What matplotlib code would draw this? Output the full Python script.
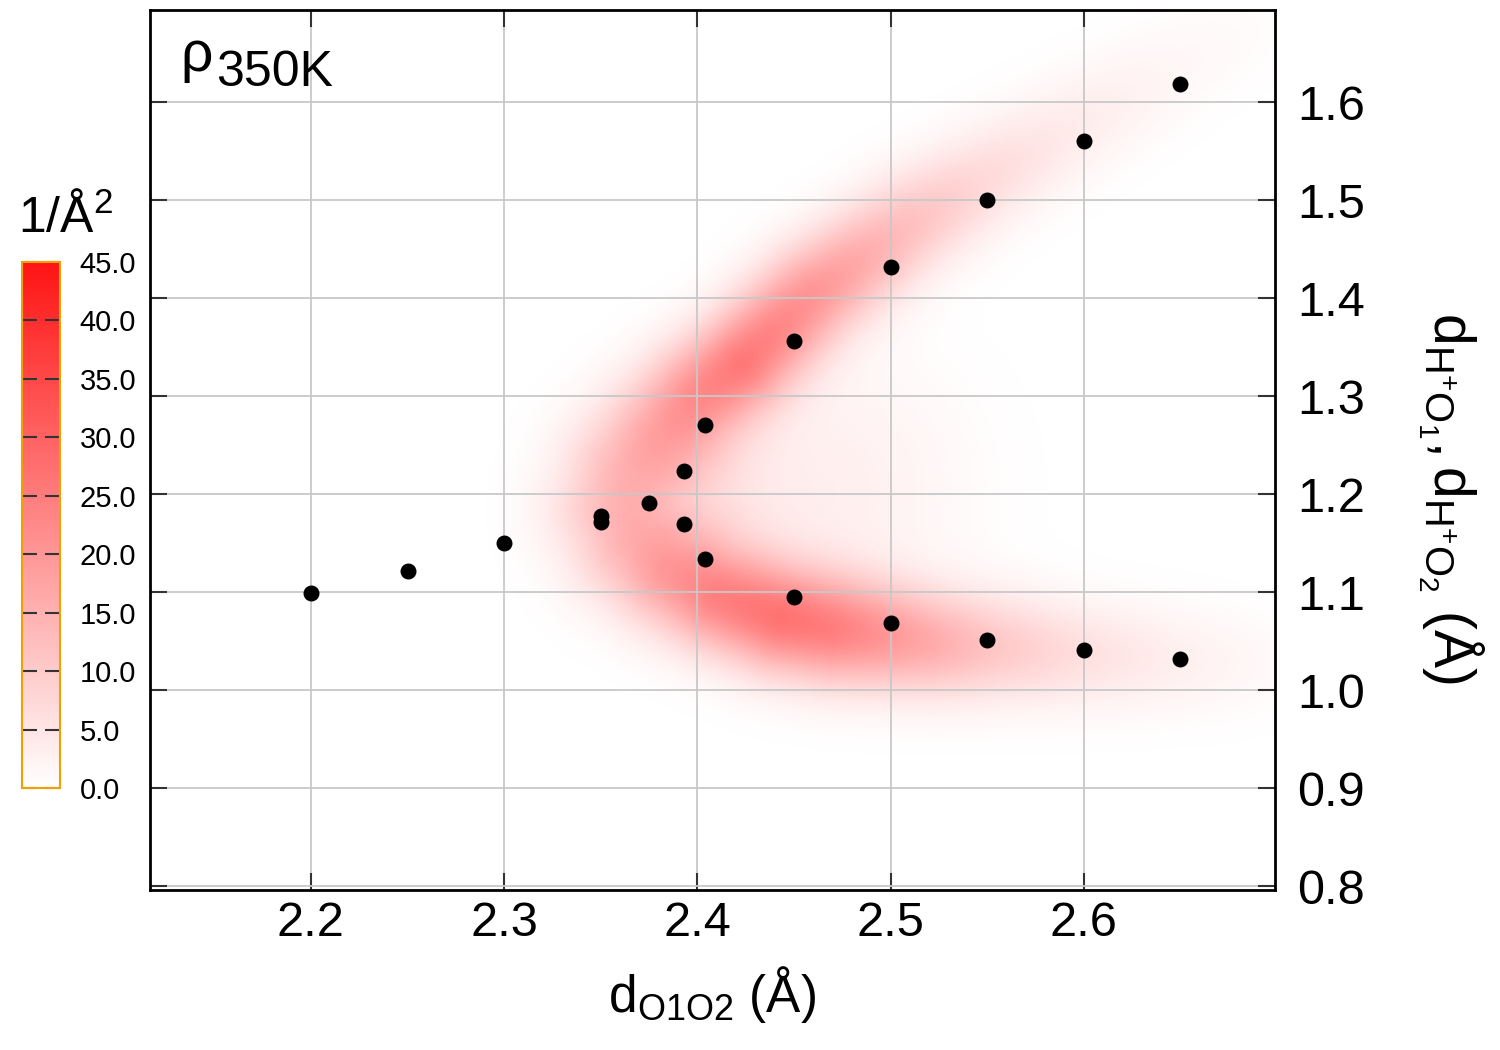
import numpy as np
import matplotlib
matplotlib.use('Agg')
import matplotlib.pyplot as plt
from matplotlib.colors import LinearSegmentedColormap

plt.rcParams['font.family'] = ['Liberation Sans', 'DejaVu Sans']
plt.rcParams['mathtext.fontset'] = 'custom'
plt.rcParams['mathtext.rm'] = 'Liberation Sans'
plt.rcParams['mathtext.it'] = 'Liberation Sans:italic'

# Black points: d_O1O2 vs d_H+O
pts_x = [2.2, 2.25, 2.3, 2.35, 2.35, 2.375, 2.393, 2.393, 2.404, 2.404,
         2.45, 2.45, 2.5, 2.5, 2.55, 2.55, 2.6, 2.6, 2.65, 2.65]
pts_y = [1.099, 1.122, 1.150, 1.178, 1.172, 1.191, 1.224, 1.170, 1.271, 1.134,
         1.356, 1.095, 1.432, 1.068, 1.500, 1.051, 1.560, 1.041, 1.619, 1.032]

# Density ridge (upper tip -> bend -> lower tip)
ridge_x = [2.70, 2.65, 2.59, 2.55, 2.51, 2.46, 2.423, 2.40, 2.38, 2.365,
           2.36, 2.368, 2.385, 2.41, 2.443, 2.47, 2.52, 2.56, 2.60, 2.65, 2.70]
ridge_y = [1.69, 1.64, 1.571, 1.525, 1.477, 1.405, 1.335, 1.30, 1.262, 1.225,
           1.185, 1.15, 1.12, 1.095, 1.073, 1.062, 1.048, 1.042, 1.036, 1.030, 1.026]
ridge_v = [0.5, 1.5, 4, 7, 12, 20, 25, 21, 16, 13,
           12.5, 14, 18, 23, 26, 24, 16, 10, 6, 3, 1]
ridge_w = [36, 36, 35, 35, 35, 35, 35, 37, 40, 44,
           46, 44, 40, 38, 38, 38, 37, 37, 37, 37, 37]  # half-width in px

# faint haze inside the C
haze_x = [2.47, 2.395]
haze_y = [1.21, 1.20]
haze_v = [3.0, 5.0]
haze_w = [90, 55]

xlim = (2.1167, 2.699)
ylim = (0.796, 1.694)
sx, sy = 1933.0, 980.0  # px per unit

gx = np.linspace(xlim[0], xlim[1], 600)
gy = np.linspace(ylim[0], ylim[1], 450)
X, Y = np.meshgrid(gx, gy)
PX, PY = X * sx, Y * sy

field = np.zeros_like(X)
for i in range(len(ridge_x) - 1):
    ax0, ay0 = ridge_x[i] * sx, ridge_y[i] * sy
    ax1, ay1 = ridge_x[i + 1] * sx, ridge_y[i + 1] * sy
    dx, dy = ax1 - ax0, ay1 - ay0
    t = ((PX - ax0) * dx + (PY - ay0) * dy) / (dx * dx + dy * dy)
    t = np.clip(t, 0, 1)
    d2 = (PX - ax0 - t * dx) ** 2 + (PY - ay0 - t * dy) ** 2
    v = ridge_v[i] + t * (ridge_v[i + 1] - ridge_v[i])
    w = ridge_w[i] + t * (ridge_w[i + 1] - ridge_w[i])
    field = np.maximum(field, v * np.exp(-0.5 * d2 / w ** 2))
for hx, hy, hv, hw in zip(haze_x, haze_y, haze_v, haze_w):
    d2 = (PX - hx * sx) ** 2 + (PY - hy * sy) ** 2
    field += hv * np.exp(-0.5 * d2 / hw ** 2)

cmap = LinearSegmentedColormap.from_list('wr', ['#ffffff', '#ff1414'], N=256)

fig = plt.figure(figsize=(15, 10.5), dpi=100)
ax = fig.add_axes([0.1, 0.1524, 0.75, 0.838])
im = ax.imshow(field, extent=(xlim[0], xlim[1], ylim[0], ylim[1]), origin='lower',
               cmap=cmap, vmin=0, vmax=45, aspect='auto', interpolation='bilinear', zorder=0)
ax.grid(True, color='#c8c8c8', linewidth=1.3, zorder=1)
ax.scatter(pts_x, pts_y, s=110, color='k', zorder=4)

ax.set_xlim(xlim)
ax.set_ylim(ylim)
ax.set_xticks([2.2, 2.3, 2.4, 2.5, 2.6])
ax.set_yticks([0.8, 0.9, 1.0, 1.1, 1.2, 1.3, 1.4, 1.5, 1.6])
ax.tick_params(axis='both', direction='in', length=12, width=1.5, color='#333333',
               top=True, bottom=True, left=True, right=True,
               labelleft=False, labelright=True, labelsize=35)
ax.tick_params(axis='x', pad=8)
ax.tick_params(axis='y', pad=16)
for sp in ax.spines.values():
    sp.set_linewidth(2)

ax.set_xlabel(r'$\mathregular{d_{O1O2}}$ (Å)', fontsize=37)
ax.xaxis.set_label_coords(0.4996, -0.119)
ax.xaxis.label.set_va('center')
ax.yaxis.set_label_position('right')
ax.set_ylabel(r'$\mathregular{d_{H^{+}O_{1}}, d_{H^{+}O_{2}}}$ (Å)', fontsize=41,
              rotation=270, va='center', ha='center')
ax.yaxis.set_label_coords(1.1565, 0.446)

fig.text(180 / 1500, 1 - 71 / 1050, 'ρ', fontsize=41, va='baseline', ha='left')
fig.text(216 / 1500, 1 - 86 / 1050, '350K', fontsize=36, va='baseline', ha='left')

# colorbar on the left
cax = fig.add_axes([22 / 1500, 262 / 1050, 38 / 1500, 526 / 1050])
cb = fig.colorbar(im, cax=cax, ticks=np.arange(0, 50, 5), format='%.1f')
cb.outline.set_edgecolor('#f0a000')
cb.outline.set_linewidth(1.5)
cax.yaxis.set_ticks_position('both')
cax.tick_params(direction='in', length=11, width=1.5, color='#333333',
                labelleft=False, labelright=True, labelsize=21, pad=14)
fig.text(18 / 1500, 1 - 233 / 1050, r'$\mathregular{1/Å^2}$', fontsize=36,
         va='baseline', ha='left')

fig.savefig('out.png', dpi=100)
